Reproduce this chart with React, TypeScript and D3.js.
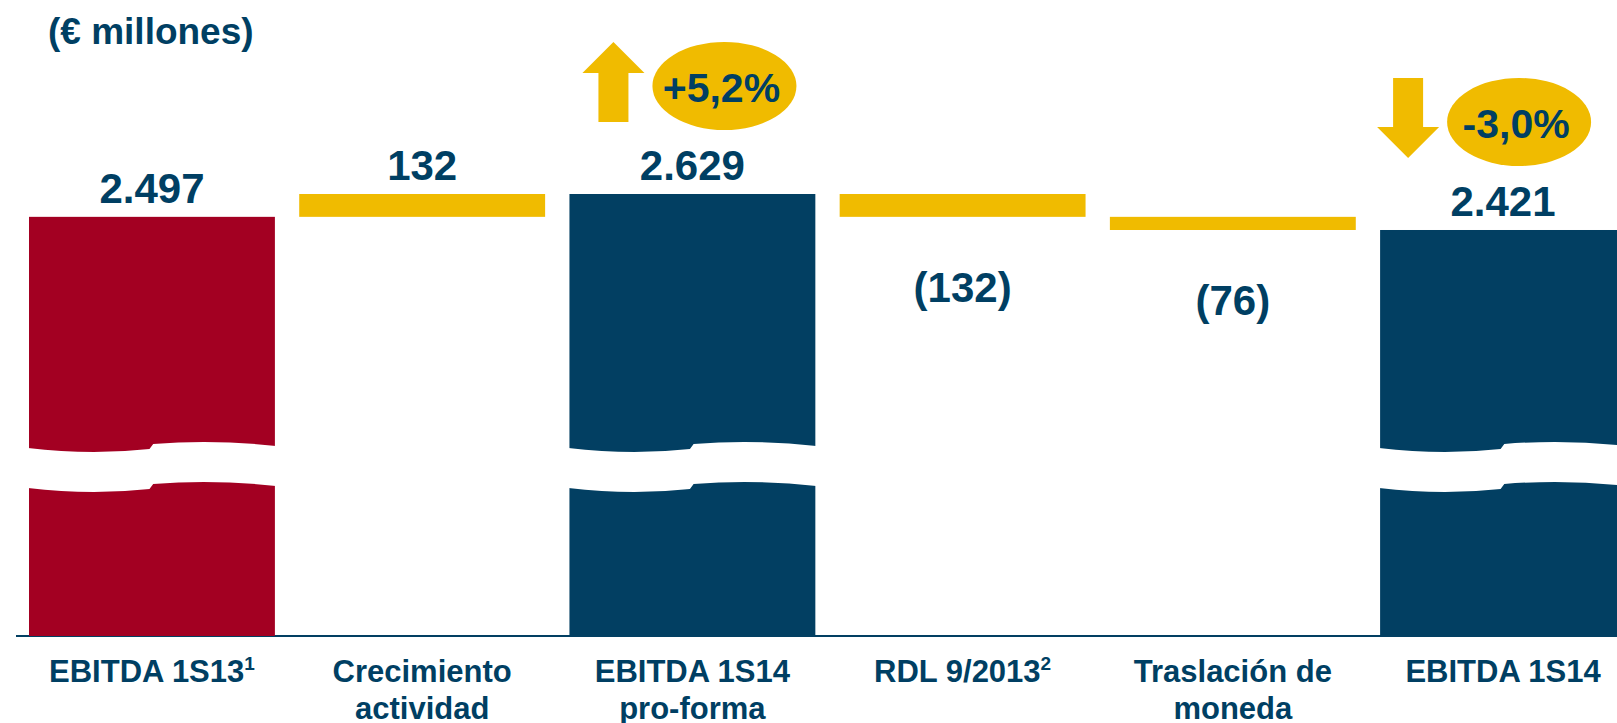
import React from 'react';
import { scaleBand, scaleLinear } from 'd3';

const width = 1617;
const height = 723;

const navy = '#023f62';
const red = '#a30022';
const yellow = '#f0bb00';
const textColor = '#003f63';

// categories, each split in label lines (+ superscript note on the first line)
const categories = ['EBITDA 1S13', 'Crecimiento actividad', 'EBITDA 1S14 pro-forma', 'RDL 9/2013', 'Traslación de moneda', 'EBITDA 1S14'];
const labelLines = [['EBITDA 1S13'], ['Crecimiento', 'actividad'], ['EBITDA 1S14', 'pro-forma'], ['RDL 9/2013'], ['Traslación de', 'moneda'], ['EBITDA 1S14']];
const notes = ['1', '', '', '2', '', ''];

// bar kind: total bars start at the axis, deltas float
const kinds = ['total', 'delta', 'total', 'delta', 'delta', 'total'];
const values = [2497, 132, 2629, -132, -76, 2421];
const valueLabels = ['2.497', '132', '2.629', '(132)', '(76)', '2.421'];

// variation badges
const badgeTargets = ['EBITDA 1S14 pro-forma', 'EBITDA 1S14'];
const badgeTexts = ['+5,2%', '-3,0%'];
const badgeDirs = ['up', 'down'];

const axisFloor = 75; // broken axis: bars do not start at zero
const baseline = 636;

function App() {
  const x = scaleBand<string>()
    .domain(categories)
    .range([29, 1626])
    .paddingInner(0.09)
    .paddingOuter(0);

  const y = scaleLinear()
    .domain([axisFloor, 2629])
    .range([baseline, 194]);

  // running totals for the waterfall
  let running = 0;
  const bars = categories.map((c, i) => {
    let lo: number, hi: number;
    if (kinds[i] === 'total') {
      running = values[i];
      lo = axisFloor;
      hi = values[i];
    } else {
      const start = running;
      running += values[i];
      lo = Math.min(start, running);
      hi = Math.max(start, running);
    }
    return { c, i, lo, hi };
  });

  const bw = x.bandwidth();

  const breakPath = (x0: number) => {
    const w = bw;
    const t = 448;
    const g = 40;
    return `M${x0 - 1},${t} Q${x0 + w * 0.25},${t + 7.5} ${x0 + w * 0.49},${t + 1}
      L${x0 + w * 0.505},${t - 4} Q${x0 + w * 0.75},${t - 9} ${x0 + w + 1},${t - 2}
      L${x0 + w + 1},${t - 2 + g} Q${x0 + w * 0.75},${t - 9 + g} ${x0 + w * 0.505},${t - 4 + g}
      L${x0 + w * 0.49},${t + 1 + g} Q${x0 + w * 0.25},${t + 7.5 + g} ${x0 - 1},${t + g} Z`;
  };

  return (
    <svg width={width} height={height} style={{ position: 'absolute', left: 0, top: 0 }}
      fontFamily="'Liberation Sans', Arial, sans-serif" fontWeight="bold">
      <rect width={width} height={height} fill="#fff" />

      <text x={48} y={44} fontSize={37} fill={textColor}>(€ millones)</text>

      <line x1={16} x2={width} y1={baseline} y2={baseline} stroke={navy} strokeWidth={2} />

      {bars.map(b => {
        const x0 = x(b.c)!;
        const fill = kinds[b.i] === 'delta' ? yellow : (b.i === 0 ? red : navy);
        return (
          <g key={b.c}>
            <rect x={x0} y={y(b.hi)} width={bw} height={y(b.lo) - y(b.hi)} fill={fill} />
            {kinds[b.i] === 'total' && <path d={breakPath(x0)} fill="#fff" />}
            <text
              x={x0 + bw / 2}
              y={values[b.i] < 0 ? y(b.lo) + 85 : y(b.hi) - 14}
              fontSize={42}
              textAnchor="middle"
              fill={textColor}
            >
              {valueLabels[b.i]}
            </text>
            {labelLines[b.i].map((line, j) => (
              <text key={j} x={x0 + bw / 2} y={682 + j * 37} fontSize={31} textAnchor="middle" fill={textColor}>
                {line}
                {j === 0 && notes[b.i] && (
                  <tspan fontSize={19} dy={-12}>{notes[b.i]}</tspan>
                )}
              </text>
            ))}
          </g>
        );
      })}

      {badgeTargets.map((t, k) => {
        const i = categories.indexOf(t);
        const x0 = x(t)!;
        const labelY = y(values[i]) - 14;
        const cy = labelY - 94;
        const ex = x0 + (badgeDirs[k] === 'up' ? 155 : 139);
        const ax = x0 + (badgeDirs[k] === 'up' ? 44 : 28);
        const arrow = badgeDirs[k] === 'up'
          ? `M${ax},${cy - 44} L${ax + 31},${cy - 13} L${ax + 15},${cy - 13} L${ax + 15},${cy + 36} L${ax - 15},${cy + 36} L${ax - 15},${cy - 13} L${ax - 31},${cy - 13} Z`
          : `M${ax},${cy + 36} L${ax + 31},${cy + 5} L${ax + 15},${cy + 5} L${ax + 15},${cy - 44} L${ax - 15},${cy - 44} L${ax - 15},${cy + 5} L${ax - 31},${cy + 5} Z`;
        return (
          <g key={t}>
            <path d={arrow} fill={yellow} />
            <ellipse cx={ex} cy={cy} rx={72} ry={44} fill={yellow} />
            <text x={ex - 3} y={cy + 16} fontSize={41} textAnchor="middle" fill={textColor}>{badgeTexts[k]}</text>
          </g>
        );
      })}
    </svg>
  );
}

export default App;
